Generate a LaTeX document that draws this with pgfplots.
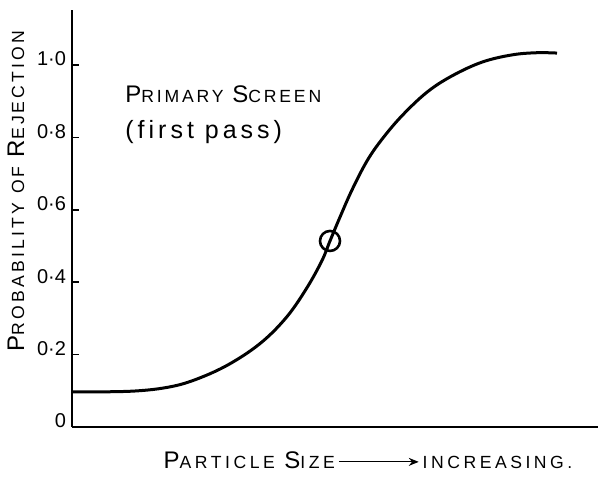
\documentclass[border=0pt]{standalone}
\usepackage{fontspec}
\setmainfont{Liberation Sans}
\newfontfamily\hand[LetterSpace=16]{Liberation Sans}
\newfontfamily\handx[LetterSpace=20]{Liberation Sans}
\newfontfamily\handwide[LetterSpace=18]{Liberation Sans}
\newfontfamily\tickfont{Liberation Sans}
\usepackage{pgfplots}
\pgfplotsset{compat=1.18}
\usetikzlibrary{arrows.meta}
\newcommand\SC[2]{{\fontsize{12}{13}\selectfont #1}{\fontsize{8.8}{10}\selectfont #2}}
\begin{document}
\begin{tikzpicture}
\useasboundingbox (-36pt,-26pt) rectangle (263pt,213.5pt);
\begin{axis}[
  at={(0,0)}, anchor=south west,
  scale only axis,
  width=263pt, height=208.5pt,
  xmin=0, xmax=526, ymin=0, ymax=1.152,
  axis x line*=bottom, axis y line*=left,
  axis line style={-, line width=1pt},
  xtick=\empty,
  ytick={0,0.2,0.4,0.6,0.8,1.0},
  yticklabels={0,0·2,0·4,0·6,0·8,1·0},
  tick align=inside,
  major tick length=3.5pt,
  every tick/.style={black, line width=0.8pt},
  yticklabel style={font=\tickfont\fontsize{10}{11}\selectfont, xshift=0.5pt, yshift=3pt},
  clip=false,
]
\addplot[black, line width=1.5pt, smooth, tension=0.6] coordinates {
 (0,0.097) (60,0.099) (100,0.112) (130,0.138) (160,0.178) (190,0.235)
 (215,0.305) (235,0.385) (250,0.460) (258,0.514) (268,0.580) (280,0.655)
 (295,0.735) (310,0.795) (330,0.860) (355,0.925) (380,0.970) (410,1.008)
 (440,1.028) (465,1.034) (485,1.033)
};
\addplot[only marks, mark=o, mark size=5pt, mark options={line width=1.3pt, black}] coordinates {(258,0.514)};
\node[anchor=west, inner sep=0pt, font=\hand] at (axis cs:53,0.92) {\SC{P}{RIMARY} \SC{S}{CREEN}};
\node[anchor=west, inner sep=0pt, font=\hand\fontsize{12.5}{13}\selectfont] at (axis cs:53,0.815) {(first pass)};
\node[rotate=90, inner sep=0pt, font=\handwide] at (axis cs:-56,0.652) {\SC{P}{ROBABILITY} \SC{}{OF} \SC{R}{EJECTION}};
\node[inner sep=0pt, font=\handx] at (axis cs:296,-0.091) {\SC{P}{ARTICLE} \SC{S}{IZE}\,\tikz[baseline=-0.6ex]\draw[-{Stealth[length=5pt,width=4pt]}, line width=0.6pt] (0,0) -- (40pt,0);\,{\fontsize{8.8}{10}\selectfont INCREASING.}};
\end{axis}
\end{tikzpicture}
\end{document}
